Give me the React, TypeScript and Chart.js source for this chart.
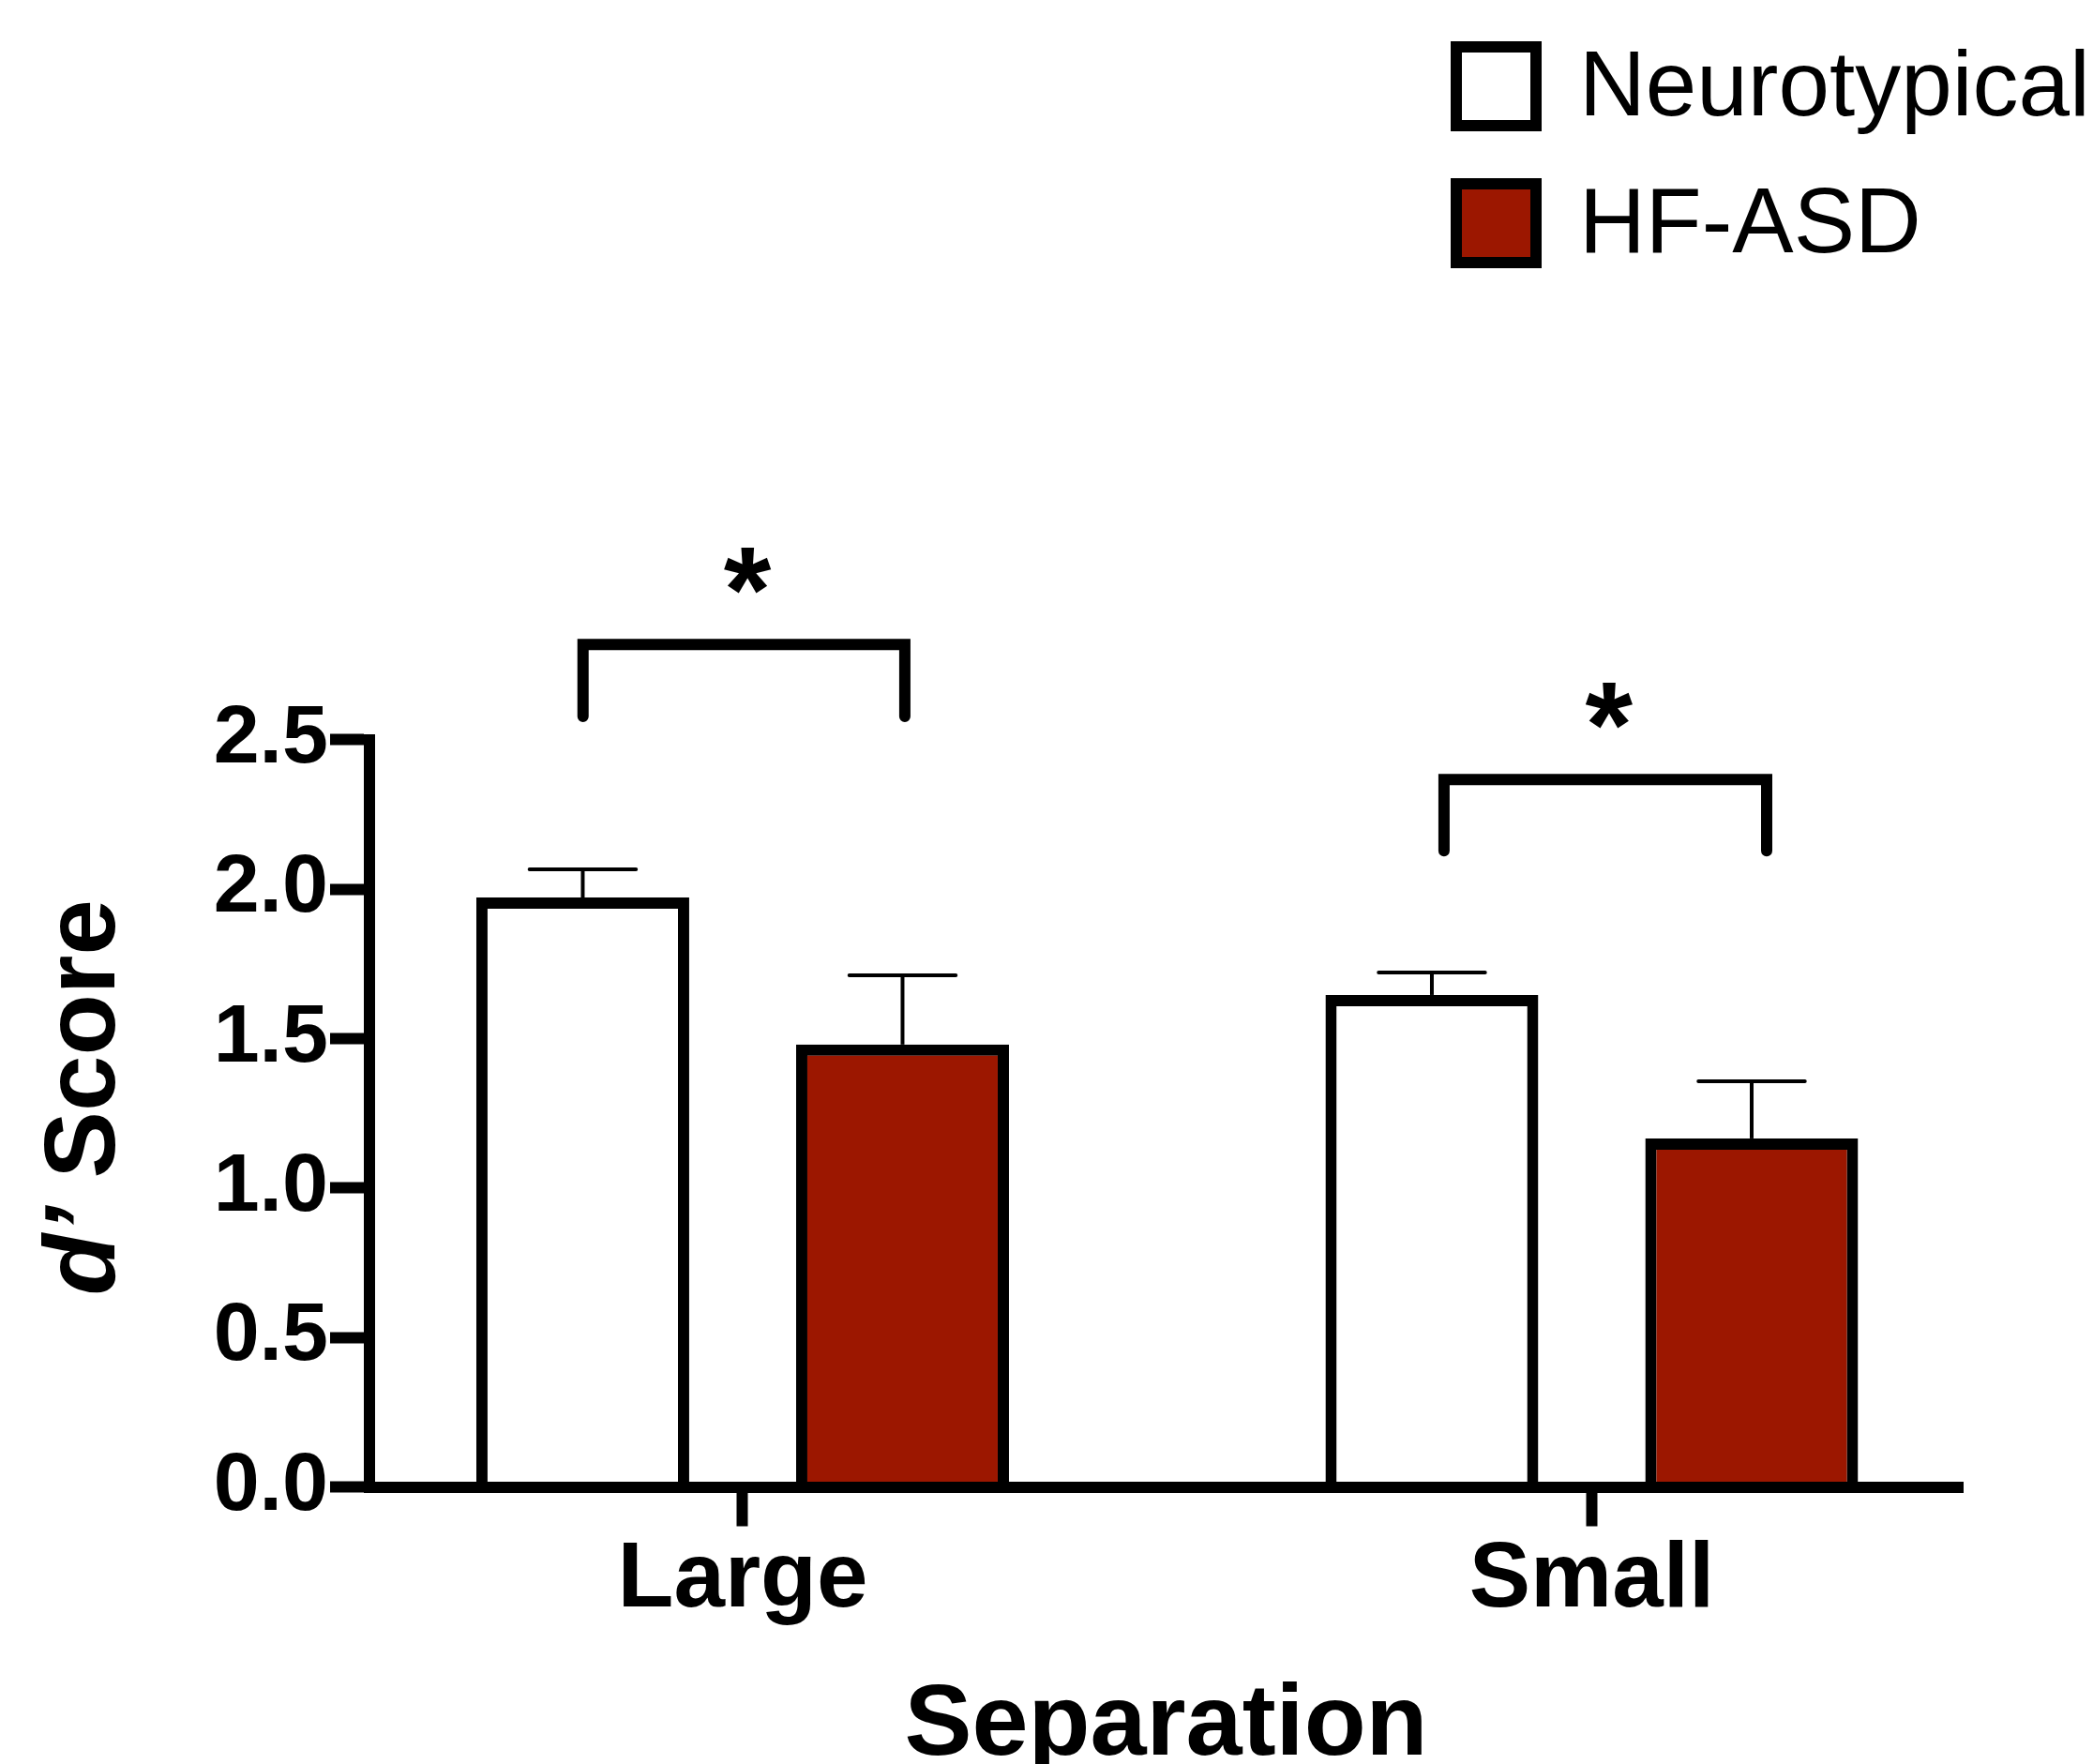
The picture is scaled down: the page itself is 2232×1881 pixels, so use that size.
import React, { useEffect, useRef } from 'react';
import { Chart, registerables } from 'chart.js';

Chart.register(...registerables);

// ---------------- data ----------------
const categories = ['Large', 'Small'];
const categoryX = [0, 1];
const seriesLabels = ['Neurotypical', 'HF-ASD'];
const neurotypicalMean = [1.972, 1.646];
const neurotypicalSem = [0.094, 0.075];
const hfAsdMean = [1.48, 1.166];
const hfAsdSem = [0.232, 0.191];
const yTicks = [0, 0.5, 1, 1.5, 2, 2.5];
const xAxisTitle = 'Separation';
const yAxisTitleParts = ['d\u2019', ' Score'];
// significance brackets (x in category units, y in d' units)
const bracketLeft = [-0.188, 0.826];
const bracketRight = [0.191, 1.206];
const bracketTop = [2.819, 2.367];
const bracketLegEnd = [2.578, 2.128];
const starY = [3.067, 2.615];
const starLabels = ['*', '*'];

const meanSeries = [neurotypicalMean, hfAsdMean];
const semSeries = [neurotypicalSem, hfAsdSem];
const fillColors = ['#ffffff', '#9c1700'];

const FONT = "'Liberation Sans', Arial, Helvetica, sans-serif";
const W = 2232;
const H = 1881;

const errorBarsPlugin = {
  id: 'errorBars',
  afterDatasetsDraw(chart: any) {
    const ctx = chart.ctx;
    const yScale = chart.scales.y;
    ctx.save();
    ctx.strokeStyle = '#000';
    ctx.lineWidth = 4;
    chart.data.datasets.forEach((_ds: any, di: number) => {
      const meta = chart.getDatasetMeta(di);
      meta.data.forEach((bar: any, j: number) => {
        const p = bar.getProps(['x', 'y', 'width'], true);
        const yTop = yScale.getPixelForValue(meanSeries[di][j] + semSeries[di][j]);
        ctx.lineCap = 'butt';
        ctx.beginPath();
        ctx.moveTo(p.x, p.y);
        ctx.lineTo(p.x, yTop);
        ctx.stroke();
        ctx.lineCap = 'round';
        ctx.beginPath();
        ctx.moveTo(p.x - p.width * 0.25, yTop);
        ctx.lineTo(p.x + p.width * 0.25, yTop);
        ctx.stroke();
      });
    });
    ctx.restore();
  },
};

const bracketsPlugin = {
  id: 'brackets',
  afterDraw(chart: any) {
    const ctx = chart.ctx;
    const xs = chart.scales.x;
    const ys = chart.scales.y;
    ctx.save();
    ctx.strokeStyle = '#000';
    ctx.fillStyle = '#000';
    ctx.lineWidth = 12;
    ctx.lineJoin = 'miter';
    ctx.lineCap = 'round';
    for (let i = 0; i < bracketLeft.length; i++) {
      const x0 = xs.getPixelForValue(bracketLeft[i]);
      const x1 = xs.getPixelForValue(bracketRight[i]);
      const yt = ys.getPixelForValue(bracketTop[i]);
      const yb = ys.getPixelForValue(bracketLegEnd[i]);
      ctx.beginPath();
      ctx.moveTo(x0, yb);
      ctx.lineTo(x0, yt);
      ctx.lineTo(x1, yt);
      ctx.lineTo(x1, yb);
      ctx.stroke();
      ctx.font = `bold 130px ${FONT}`;
      ctx.textAlign = 'left';
      ctx.textBaseline = 'alphabetic';
      const m = ctx.measureText(starLabels[i]);
      const cx = (x0 + x1) / 2 + 4;
      const cy = ys.getPixelForValue(starY[i]);
      const A = m.actualBoundingBoxAscent;
      const D = m.actualBoundingBoxDescent;
      const L = m.actualBoundingBoxLeft;
      const R = m.actualBoundingBoxRight;
      ctx.fillText(starLabels[i], cx - (R - L) / 2, cy + (A - D) / 2);
    }
    ctx.restore();
  },
};

const legendPlugin = {
  id: 'customLegend',
  afterDraw(chart: any) {
    const ctx = chart.ctx;
    ctx.save();
    chart.data.datasets.forEach((ds: any, i: number) => {
      const bx = 1547;
      const by = 44 + i * 146;
      const bwid = 97;
      const bh = 96;
      const bw = 12;
      ctx.fillStyle = ds.borderColor;
      ctx.fillRect(bx, by, bwid, bh);
      ctx.fillStyle = ds.backgroundColor;
      ctx.fillRect(bx + bw, by + bw, bwid - 2 * bw, bh - 2 * bw);
      ctx.fillStyle = '#000';
      ctx.font = `98px ${FONT}`;
      ctx.textAlign = 'left';
      ctx.textBaseline = 'alphabetic';
      ctx.fillText(ds.label, 1684, by + 79);
    });
    ctx.restore();
  },
};

const yTitlePlugin = {
  id: 'yTitle',
  afterDraw(chart: any) {
    const ctx = chart.ctx;
    const { top, bottom } = chart.chartArea;
    const cx = 92;
    const cy = (top + bottom) / 2 - 17;
    ctx.save();
    ctx.translate(cx, cy);
    ctx.rotate(-Math.PI / 2);
    ctx.fillStyle = '#000';
    ctx.textAlign = 'left';
    ctx.textBaseline = 'middle';
    const f1 = `italic bold 107px ${FONT}`;
    const f2 = `bold 107px ${FONT}`;
    ctx.font = f1;
    const w1 = ctx.measureText(yAxisTitleParts[0]).width;
    ctx.font = f2;
    const w2 = ctx.measureText(yAxisTitleParts[1]).width;
    const start = -(w1 + w2) / 2;
    ctx.font = f1;
    ctx.fillText(yAxisTitleParts[0], start, 0);
    ctx.font = f2;
    ctx.fillText(yAxisTitleParts[1], start + w1, 0);
    ctx.restore();
  },
};

export default function App() {
  const ref = useRef<HTMLCanvasElement | null>(null);

  useEffect(() => {
    if (!ref.current) return;
    const chart = new Chart(ref.current, {
      type: 'bar',
      data: {
        datasets: seriesLabels.map((label, di) => ({
          label,
          data: categoryX.map((x, j) => ({ x, y: meanSeries[di][j] })),
          backgroundColor: fillColors[di],
          borderColor: '#000000',
          borderWidth: 12,
          categoryPercentage: 0.7532,
          barPercentage: 0.6657,
        })),
      },
      options: {
        responsive: false,
        animation: false,
        devicePixelRatio: 1,
        events: [],
        layout: { padding: { top: 788.8, right: 139, bottom: 0, left: 0 } },
        plugins: {
          legend: { display: false },
          tooltip: { enabled: false },
          title: { display: false },
        },
        scales: {
          x: {
            type: 'linear',
            min: -0.4395,
            max: 1.4368,
            offset: false,
            grid: {
              display: true,
              offset: false,
              drawOnChartArea: false,
              drawTicks: true,
              tickLength: 42,
              tickWidth: 12,
              tickColor: '#000',
              color: '#000',
            },
            border: { display: true, color: '#000', width: 12, z: 1 },
            afterBuildTicks: (s: any) => {
              s.ticks = categoryX.map((v) => ({ value: v }));
            },
            afterFit: (s: any) => {
              s.height = H - 1585.5;
            },
            ticks: {
              color: '#000',
              padding: 9,
              maxRotation: 0,
              minRotation: 0,
              autoSkip: false,
              font: { family: FONT, weight: 'bold', size: 98, lineHeight: 1 },
              callback: (v: any) => {
                const k = categoryX.indexOf(Number(v));
                return k >= 0 ? categories[k] : '';
              },
            },
            title: {
              display: true,
              text: xAxisTitle,
              color: '#000',
              font: { family: FONT, weight: 'bold', size: 108, lineHeight: 1 },
              padding: { top: 0, bottom: -14 },
            },
          },
          y: {
            type: 'linear',
            min: 0,
            max: 2.5,
            grid: {
              display: true,
              drawOnChartArea: false,
              drawTicks: true,
              tickLength: 42,
              tickWidth: 12,
              tickColor: '#000',
              color: '#000',
            },
            border: { display: true, color: '#000', width: 12, z: 1 },
            afterBuildTicks: (s: any) => {
              s.ticks = yTicks.map((v) => ({ value: v }));
            },
            afterFit: (s: any) => {
              s.width = 394;
            },
            ticks: {
              color: '#000',
              padding: 2,
              font: { family: FONT, weight: 'bold', size: 88, lineHeight: 1 },
              callback: (v: any) => Number(v).toFixed(1),
            },
          },
        },
      } as any,
      plugins: [errorBarsPlugin, bracketsPlugin, legendPlugin, yTitlePlugin],
    });
    return () => chart.destroy();
  }, []);

  return (
    <div style={{ position: 'fixed', left: 0, top: 0, width: W, height: H, background: '#fff' }}>
      <canvas ref={ref} width={W} height={H} style={{ display: 'block', width: W, height: H }} />
    </div>
  );
}
